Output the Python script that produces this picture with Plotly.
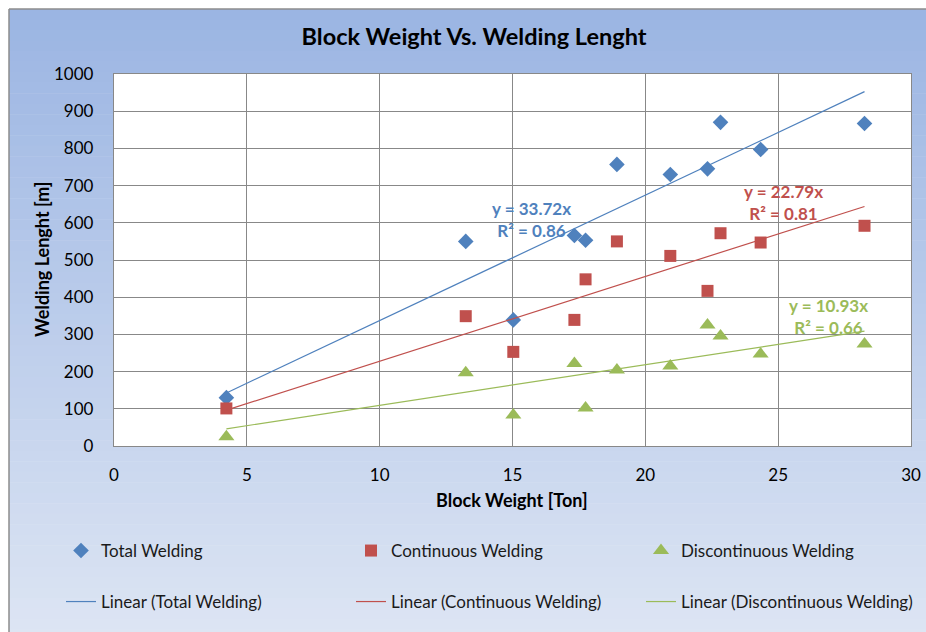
import numpy as np
import plotly.graph_objects as go

# ---- data ----
block_weight = [4.23, 13.24, 15.03, 17.33, 17.75, 18.93, 20.94, 22.34, 22.83, 24.34, 28.25]
total_welding = [130, 550, 339, 566, 553, 757, 730, 745, 870, 797, 867]
continuous_welding = [101, 349, 253, 339, 448, 550, 511, 417, 572, 547, 592]
discontinuous_welding = [25, 197, 83, 222, 102, 204, 215, 325, 296, 247, 274]
slopes = {"Total Welding": 33.72, "Continuous Welding": 22.79, "Discontinuous Welding": 10.93}
r2 = {"Total Welding": 0.86, "Continuous Welding": 0.81, "Discontinuous Welding": 0.66}
label_pos = {"Total Welding": (15.7, 610), "Continuous Welding": (25.2, 654), "Discontinuous Welding": (26.9, 348)}
x_ticks = [0, 5, 10, 15, 20, 25, 30]
y_ticks = list(range(0, 1001, 100))

FONT = "Lato"
colors = {"Total Welding": "#4F81BD", "Continuous Welding": "#C0504D", "Discontinuous Welding": "#9BBB59"}
symbols = {"Total Welding": "diamond", "Continuous Welding": "square", "Discontinuous Welding": "triangle-up"}
sizes = {"Total Welding": 12, "Continuous Welding": 12, "Discontinuous Welding": 14}
series = {"Total Welding": total_welding, "Continuous Welding": continuous_welding,
          "Discontinuous Welding": discontinuous_welding}

W, H = 926, 632
ML, MR, MT, MB = 114, 15, 74, 186
pw, ph = W - ML - MR, H - MT - MB
def px2x(p): return (p - ML) / pw      # screen px -> paper x
def py2y(p): return (H - MB - p) / ph  # screen px -> paper y

legend_cols = [101, 391, 681]   # text start (screen px) of each legend column
legend_rows = [551, 602]        # row centre (screen px)

fig = go.Figure()
legends = {}
k = 0
for j, (name, vals) in enumerate(series.items()):
    k += 1
    lid = "legend" if k == 1 else f"legend{k}"
    fig.add_trace(go.Scatter(x=block_weight, y=vals, mode="markers", name=name,
                             marker=dict(symbol=symbols[name], size=sizes[name], color=colors[name],
                                         line=dict(width=0)),
                             legend=lid, showlegend=True))
    legends[lid] = (legend_cols[j], legend_rows[0])
for j, name in enumerate(series):
    k += 1
    lid = f"legend{k}"
    xs = np.array([min(block_weight), max(block_weight)])
    fig.add_trace(go.Scatter(x=xs, y=slopes[name] * xs, mode="lines", name=f"Linear ({name})",
                             line=dict(color=colors[name], width=1.2), legend=lid, showlegend=True))
    legends[lid] = (legend_cols[j], legend_rows[1])

for name in series:
    ax, ay = label_pos[name]
    fig.add_annotation(x=ax, y=ay, xref="x", yref="y", showarrow=False,
                       text=f"y = {slopes[name]:.2f}x<br>R² = {r2[name]:.2f}",
                       font=dict(family=FONT, size=17, color=colors[name], weight="bold"),
                       align="center")

# axis titles
fig.add_annotation(x=px2x(512), y=py2y(500), xref="paper", yref="paper", showarrow=False,
                   xanchor="center", yanchor="middle",
                   text="Block Weight [Ton]", font=dict(family=FONT, size=18, color="black", weight="bold"))
fig.add_annotation(x=px2x(42), y=py2y(260), xref="paper", yref="paper", showarrow=False, textangle=-90,
                   xanchor="center", yanchor="middle",
                   text="Welding Lenght [m]", font=dict(family=FONT, size=18, color="black", weight="bold"))

# gradient background in paper coordinates
top_c = np.array([0x9B, 0xB5, 0xE3])
bot_c = np.array([0xDE, 0xE6, 0xF4])
shapes = []
n = 60
y0p, y1p = 9, 640
for i in range(n):
    a = y0p + (y1p - y0p) * i / n
    b = y0p + (y1p - y0p) * (i + 1) / n + 0.5
    t = (i + 0.5) / n
    c = (top_c * (1 - t) + bot_c * t).astype(int)
    shapes.append(dict(type="rect", xref="paper", yref="paper", layer="below",
                       x0=px2x(9), x1=px2x(940), y0=py2y(a), y1=py2y(b),
                       fillcolor=f"rgb({c[0]},{c[1]},{c[2]})", line=dict(width=0)))
# chart frame (top and left edges visible)
shapes.append(dict(type="line", xref="paper", yref="paper", layer="below",
                   x0=px2x(9), x1=px2x(940), y0=py2y(9), y1=py2y(9),
                   line=dict(color="#8C8C8C", width=1.5)))
shapes.append(dict(type="line", xref="paper", yref="paper", layer="below",
                   x0=px2x(9), x1=px2x(9), y0=py2y(9), y1=py2y(640),
                   line=dict(color="#8C8C8C", width=1.5)))
shapes.append(dict(type="rect", xref="paper", yref="paper", layer="below",
                   x0=0, x1=1, y0=0, y1=1, fillcolor="white", line=dict(width=0)))

layout_legends = {}
for lid, (tx, ry) in legends.items():
    layout_legends[lid] = dict(orientation="h", x=px2x(tx - 40), xanchor="left", y=py2y(ry),
                               yanchor="middle", bgcolor="rgba(0,0,0,0)",
                               font=dict(family=FONT, size=17, color="#1a1a1a"))

fig.update_layout(
    width=W, height=H,
    margin=dict(l=ML, r=MR, t=MT, b=MB, autoexpand=False),
    paper_bgcolor="white", plot_bgcolor="white",
    showlegend=True,
    shapes=shapes,
    title=dict(text="Block Weight Vs. Welding Lenght", x=px2x(474), xref="paper",
               y=1 - 37 / H, yanchor="middle", xanchor="center",
               font=dict(family=FONT, size=23.5, color="black", weight="bold")),
    font=dict(family=FONT, color="black"),
    xaxis=dict(range=[0, 30], tickvals=x_ticks, showgrid=True, gridcolor="#888888", gridwidth=1.3,
               showline=True, linecolor="#888888", linewidth=1.3, mirror=True, zeroline=False,
               automargin=False, ticks="", ticklen=0, ticklabelstandoff=13,
               tickfont=dict(family=FONT, size=17, color="black")),
    yaxis=dict(range=[0, 1000], tickvals=y_ticks, showgrid=True, gridcolor="#888888", gridwidth=1.3,
               showline=True, linecolor="#888888", linewidth=1.3, mirror=True, zeroline=False,
               automargin=False, ticks="", ticklen=0, ticklabelstandoff=16,
               tickfont=dict(family=FONT, size=17, color="black")),
    **layout_legends,
)

fig.write_html("out.html", config={"displayModeBar": False},
               post_script="document.body.style.margin='0px';document.body.style.overflow='hidden';")
